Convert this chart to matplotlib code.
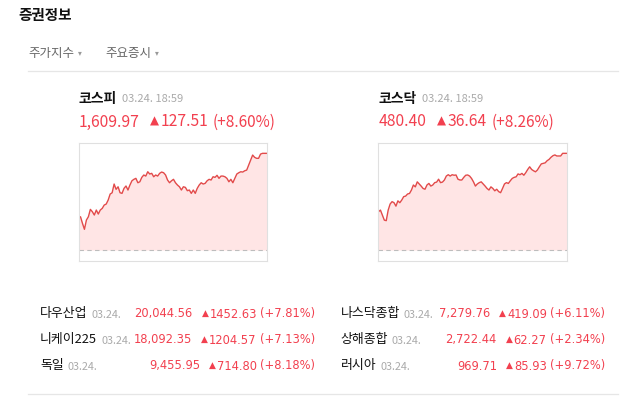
import matplotlib
matplotlib.use('Agg')
import matplotlib.pyplot as plt
import numpy as np

plt.rcParams['font.family'] = ['Noto Sans CJK KR', 'DejaVu Sans']

RED = '#f2404f'
LINE_RED = '#e24a4a'
FILL = '#ffe5e5'
GRAY = '#aaaaaa'

kospi_prev = 1482.46
kospi_intraday = [
    1524.3, 1526.4, 1517.7, 1509.8, 1522.0, 1526.4, 1536.1, 1533.0, 1528.6, 1535.2,
    1529.9, 1535.2, 1537.4, 1541.8, 1543.1, 1548.4, 1556.3, 1558.0, 1569.5, 1562.5,
    1565.9, 1558.0, 1557.2, 1563.8, 1566.9, 1561.6, 1568.2, 1573.8, 1575.7, 1577.0,
    1571.2, 1572.5, 1578.3, 1581.4, 1580.0, 1585.7, 1582.7, 1583.6, 1579.1, 1581.4,
    1580.0, 1583.6, 1585.3, 1584.4, 1581.4, 1574.8, 1571.2,
    1573.8, 1575.7, 1571.2, 1568.2, 1565.9, 1561.6, 1565.9, 1565.1, 1560.7, 1561.6,
    1557.2, 1561.6, 1557.2, 1563.8, 1568.2, 1571.2, 1569.5, 1570.4, 1573.8, 1575.7,
    1574.8, 1579.1, 1578.3, 1581.0, 1577.0, 1580.0, 1580.0, 1579.1, 1577.0, 1572.5,
    1575.7, 1571.2, 1577.0, 1582.7, 1584.4, 1585.7, 1585.3, 1587.0, 1587.9, 1594.5,
    1601.1, 1607.7, 1604.7, 1603.4, 1603.4, 1609.0, 1609.97, 1609.97, 1609.97,
]

kosdaq_prev = 443.76
kosdaq_intraday = [
    458.3, 458.9, 457.0, 455.1, 454.9, 458.9, 461.2, 462.1, 461.7, 460.4,
    462.4, 461.7, 462.7, 464.0, 464.2, 465.0, 465.2, 466.5, 468.4, 467.7,
    469.6, 468.8, 468.0, 467.1, 466.8, 468.4, 469.0, 468.0, 468.4, 469.3,
    469.5, 470.6, 469.3, 469.5, 470.3, 471.8, 472.3, 471.8, 472.3, 472.1,
    472.2, 470.6, 470.3, 470.3, 471.3, 472.1, 472.2, 471.8, 470.9, 469.6, 468.0,
    468.8, 469.3, 469.6, 468.8, 468.0, 467.1, 466.5, 467.7, 467.1, 466.2,
    466.8, 465.9, 465.5, 467.1, 468.8, 469.3, 469.0, 470.0, 470.9, 471.3,
    471.5, 472.6, 472.3, 472.8, 472.1, 473.1, 474.3, 475.3, 474.3, 473.8,
    473.4, 474.1, 475.3, 476.4, 476.6, 476.8, 477.6, 478.1, 478.9, 479.5,
    479.8, 479.4, 479.4, 479.4, 480.4, 480.4, 480.4,
]

index_names = ['코스피', '코스닥']
index_time = '03.24. 18:59'
index_close = ['1,609.97', '480.40']
index_change = ['127.51', '36.64']
index_pct = ['+8.60%', '+8.26%']

world_date = '03.24.'
world_names = ['다우산업', '니케이225', '독일', '나스닥종합', '상해종합', '러시아']
world_close = ['20,044.56', '18,092.35', '9,455.95', '7,279.76', '2,722.44', '969.71']
world_change = ['1452.63', '1204.57', '714.80', '419.09', '62.27', '85.93']
world_pct = ['+7.81%', '+7.13%', '+8.18%', '+6.11%', '+2.34%', '+9.72%']

W, H = 627, 397
fig = plt.figure(figsize=(W / 100, H / 100), dpi=100)
base = fig.add_axes([0, 0, 1, 1])
base.set_xlim(0, W)
base.set_ylim(H, 0)
base.axis('off')
renderer = fig.canvas.get_renderer()


def put(x, y, s, **kw):
    return base.text(x, y, s, va='center', **kw)


def x1(t):
    return t.get_window_extent(renderer).x1


def x0(t):
    return t.get_window_extent(renderer).x0


# header
put(18, 15, '증권정보', fontsize=10.5, fontweight='bold', color='#111111')
for tx, label in [(28, '주가지수'), (105, '주요증시')]:
    t = put(tx, 53, label, fontsize=9, color='#666666')
    put(x1(t) + 4, 53, '▾', fontsize=5.5, color='#999999', family='DejaVu Sans')
base.plot([28, 618], [70.5, 70.5], color='#e6e6e6', lw=0.9)
base.plot([28, 618], [393.5, 393.5], color='#e6e6e6', lw=0.9)


def draw_chart(left, vals, prev):
    ax = fig.add_axes([left / W, (H - 260.7) / H, 188 / W, 118 / H])
    x = np.arange(len(vals))
    ax.fill_between(x, vals, prev, color=FILL, lw=0)
    ax.plot(x, vals, color=LINE_RED, lw=1.0)
    ax.axhline(prev, color='#bdbdbd', lw=0.8, ls=(0, (4, 3)))
    hi = max(vals)
    pad = 0.11 * (hi - prev)
    ax.set_ylim(prev - pad, hi + pad)
    ax.set_xlim(0, len(vals) - 1)
    ax.set_xticks([])
    ax.set_yticks([])
    for sp in ax.spines.values():
        sp.set_color('#e0e0e0')
        sp.set_linewidth(0.8)


# index blocks
for i, (left, vals, prev) in enumerate([(78.5, kospi_intraday, kospi_prev),
                                        (378.5, kosdaq_intraday, kosdaq_prev)]):
    t = put(left, 99, index_names[i], fontsize=10, fontweight='bold', color='#111111')
    put(x1(t) + 5, 99.5, index_time, fontsize=8, color=GRAY)
    t = put(left, 122, index_close[i], fontsize=11.3, color=RED)
    t = put(x1(t) + 11, 121.5, '▲', fontsize=8.5, color=RED, family='DejaVu Sans')
    t = put(x1(t) + 1, 122, index_change[i], fontsize=11.3, color=RED)
    put(x1(t) + 5, 122, '(' + index_pct[i] + ')', fontsize=11, color=RED)
    draw_chart(left, vals, prev)

# world indices table
NUM = dict(fontsize=8.3, color=RED, ha='right', family='DejaVu Sans')
rows_y = [314, 340, 366]
for i, name in enumerate(world_names):
    col = i // 3
    y = rows_y[i % 3]
    nx = 40 if col == 0 else 340.5
    pct_right = 315 if col == 0 else 605
    t = put(nx, y, name, fontsize=9.3, color='#111111')
    put(x1(t) + 4, y + 0.5, world_date, fontsize=7.8, color=GRAY)
    t = put(pct_right, y, '(' + world_pct[i] + ')', **NUM)
    t = put(x0(t) - 3, y, world_change[i], **NUM)
    t = put(x0(t) - 1, y - 0.5, '▲', fontsize=6.5, color=RED, ha='right', family='DejaVu Sans')
    put(x0(t) - 9, y, world_close[i], **NUM)

fig.savefig('out.png', dpi=100)
